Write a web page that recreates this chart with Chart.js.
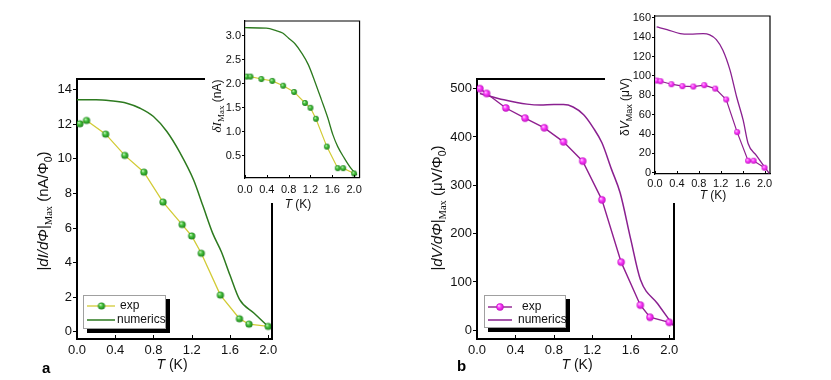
<!DOCTYPE html>
<html>
<head>
<meta charset="utf-8">
<script src="https://cdn.jsdelivr.net/npm/chart.js@4.4.0/dist/chart.umd.min.js"></script>
<style>
  body { margin: 0; background: #fff; }
  #wrap { position: relative; width: 831px; height: 380px; overflow: hidden; }
  canvas { position: absolute; }
</style>
</head>
<body>
<div id="wrap">
  <canvas id="mainA" width="415" height="380" style="left:0;top:0"></canvas>
  <canvas id="mainB" width="416" height="380" style="left:415px;top:0"></canvas>
  <canvas id="insetA" width="162" height="212" style="left:205px;top:0"></canvas>
  <canvas id="insetB" width="175" height="212" style="left:605px;top:0"></canvas>
</div>
<script>
// temperatures of the measured points (K)
var tempA = [0.03, 0.1, 0.3, 0.5, 0.7, 0.9, 1.1, 1.2, 1.3, 1.5, 1.7, 1.8, 2.0];
var tempB = [0.03, 0.1, 0.3, 0.5, 0.7, 0.9, 1.1, 1.3, 1.5, 1.7, 1.8, 2.0];

// panel a: |dI/dPhi|max (nA/Phi0)
var expA = [12.03, 12.22, 11.43, 10.2, 9.23, 7.5, 6.2, 5.54, 4.54, 2.12, 0.75, 0.44, 0.31];
var numTA = [0.0, 0.2, 0.35, 0.52, 0.66, 0.8, 0.94, 1.08, 1.22, 1.32, 1.42, 1.51, 1.6, 1.7, 1.85, 2.0];
var numA = [13.42, 13.42, 13.36, 13.22, 12.93, 12.45, 11.58, 10.33, 8.78, 7.24, 5.69, 4.63, 3.28, 1.87, 1.08, 0.3];

// inset a: delta I max (nA)
var expInsetA = [2.15, 2.15, 2.10, 2.06, 1.96, 1.83, 1.60, 1.50, 1.27, 0.69, 0.24, 0.24, 0.13];
var numTInsetA = [0.0, 0.39, 0.57, 0.69, 0.8, 0.92, 1.04, 1.16, 1.28, 1.4, 1.52, 1.61, 1.7, 1.82, 1.94, 2.05];
var numInsetA = [3.17, 3.16, 3.11, 3.06, 2.95, 2.83, 2.64, 2.40, 2.05, 1.67, 1.28, 0.94, 0.69, 0.45, 0.24, 0.10];

// panel b: |dV/dPhi|max (uV/Phi0)
var expB = [500, 490, 460, 439, 419, 390, 350, 270, 141, 52, 27, 16.5];
var numTB = [0.03, 0.28, 0.52, 0.66, 0.8, 0.9, 1.0, 1.11, 1.21, 1.3, 1.4, 1.49, 1.6, 1.7, 1.88, 2.05];
var numB = [490, 477, 468, 466, 467, 467, 462, 446, 419, 388, 333, 284, 188, 105, 55, 8];

// inset b: delta V max (uV)
var expInsetB = [95.3, 94.6, 91.5, 89.5, 89.1, 90.5, 87, 75.7, 42, 12.4, 12.4, 5.2];
var numTInsetB = [0.03, 0.22, 0.46, 0.64, 0.88, 1.0, 1.12, 1.24, 1.37, 1.49, 1.61, 1.7, 1.85, 2.09];
var numInsetB = [150.7, 148, 143.8, 143.2, 143.8, 142.5, 137.6, 126.6, 106, 78.5, 54.4, 30.3, 18, -1];

// tick labels
var tTicks = [0, 0.4, 0.8, 1.2, 1.6, 2.0];
var yTicksA = [0, 2, 4, 6, 8, 10, 12, 14];
var yTicksInsetA = [0.5, 1.0, 1.5, 2.0, 2.5, 3.0];
var yTicksB = [0, 100, 200, 300, 400, 500];
var yTicksInsetB = [0, 20, 40, 60, 80, 100, 120, 140, 160];

var SANS = '"Liberation Sans", Arial, Helvetica, sans-serif';
var SERIF = '"Liberation Serif", "Times New Roman", serif';

function pts(xs, ys) {
  return xs.map(function (x, i) { return { x: x, y: ys[i] }; });
}

function ball(r, light, mid, dark) {
  var c = document.createElement('canvas');
  var s = Math.ceil(r * 2 + 2);
  c.width = s; c.height = s;
  var g = c.getContext('2d');
  var grad = g.createRadialGradient(s / 2 - r * 0.35, s / 2 - r * 0.4, 0, s / 2, s / 2, r);
  grad.addColorStop(0, light);
  grad.addColorStop(0.45, mid);
  grad.addColorStop(1, dark);
  g.fillStyle = grad;
  g.beginPath();
  g.arc(s / 2, s / 2, r, 0, Math.PI * 2);
  g.fill();
  return c;
}

// text made of pieces (italic, subscripts), centred on cx,cy
function rich(ctx, segs, size, cx, cy, rotate) {
  ctx.save();
  ctx.translate(cx, cy);
  if (rotate) ctx.rotate(-Math.PI / 2);
  var total = 0;
  segs.forEach(function (s) { ctx.font = s.f; s.w = ctx.measureText(s.t).width; total += s.w; });
  var x = -total / 2;
  ctx.textAlign = 'left';
  ctx.textBaseline = 'alphabetic';
  ctx.fillStyle = '#111';
  segs.forEach(function (s) {
    ctx.font = s.f;
    ctx.fillText(s.t, x, size * 0.36 + (s.dy || 0));
    x += s.w;
  });
  ctx.restore();
}

function mainTitle(letter, unit) {
  var f = '15px ' + SANS;
  return [
    { t: '|', f: f },
    { t: 'd' + letter + '/d\u03A6', f: 'italic 15px ' + SANS },
    { t: '|', f: f },
    { t: 'Max', f: '10.5px ' + SERIF, dy: 4 },
    { t: ' (' + unit + '/\u03A6', f: f },
    { t: '0', f: '10.5px ' + SANS, dy: 4 },
    { t: ')', f: f }
  ];
}

function tTitle(size) {
  return [
    { t: 'T', f: 'italic ' + size + 'px ' + SANS },
    { t: ' (K)', f: size + 'px ' + SANS }
  ];
}

function drawLegend(ctx, chart, L) {
  var ds = chart.data.datasets;
  ctx.save();
  ctx.fillStyle = '#000';
  ctx.fillRect(L.x + 4, L.y + 4, L.w, L.h);
  ctx.fillStyle = '#fff';
  ctx.fillRect(L.x, L.y, L.w, L.h);
  ctx.strokeStyle = '#a0a0a0';
  ctx.lineWidth = 1;
  ctx.strokeRect(L.x + 0.5, L.y + 0.5, L.w - 1, L.h - 1);

  ctx.strokeStyle = ds[0].borderColor;
  ctx.lineWidth = ds[0].borderWidth;
  ctx.beginPath(); ctx.moveTo(L.lx0, L.y1); ctx.lineTo(L.lx1, L.y1); ctx.stroke();
  var b = ds[0].pointStyle;
  ctx.drawImage(b, L.mx - b.width / 2, L.y1 - b.height / 2);

  ctx.strokeStyle = ds[1].borderColor;
  ctx.lineWidth = ds[1].borderWidth;
  ctx.beginPath(); ctx.moveTo(L.lx0, L.y2); ctx.lineTo(L.lx1, L.y2); ctx.stroke();

  ctx.fillStyle = '#111';
  ctx.font = '12px ' + SANS;
  ctx.textBaseline = 'middle';
  ctx.textAlign = 'left';
  ctx.fillText(ds[0].label, L.tx1, L.y1);
  ctx.fillText(ds[1].label, L.tx2, L.y2);
  ctx.restore();
}

function deco(d) {
  return {
    id: 'deco',
    beforeDraw: function (chart) {
      if (!d.cover) return;
      var ctx = chart.ctx;
      ctx.save();
      ctx.fillStyle = '#fff';
      d.cover.forEach(function (r) { ctx.fillRect(r[0], r[1], r[2], r[3]); });
      ctx.restore();
    },
    afterDraw: function (chart) {
      var ctx = chart.ctx, a = chart.chartArea, xs = chart.scales.x;
      ctx.save();
      ctx.strokeStyle = '#000';
      ctx.lineWidth = d.frame;
      ctx.beginPath();
      ctx.moveTo(a.left, a.top);
      ctx.lineTo(a.right, a.top);
      ctx.lineTo(a.right, a.bottom);
      ctx.stroke();
      ctx.lineWidth = 1;
      tTicks.forEach(function (v) {
        var px = Math.round(xs.getPixelForValue(v)) + 0.5;
        ctx.beginPath();
        ctx.moveTo(px, a.bottom);
        ctx.lineTo(px, a.bottom - d.tickIn);
        ctx.stroke();
      });
      ctx.restore();
      rich(ctx, d.yTitle, d.yTitleSize, d.yTitleX, d.yTitleY, true);
      rich(ctx, tTitle(d.xTitleSize), d.xTitleSize, d.xTitleX, d.xTitleY, false);
      if (d.legend) drawLegend(ctx, chart, d.legend);
      if (d.panel) {
        ctx.save();
        ctx.fillStyle = '#000';
        ctx.font = 'bold 15px ' + SANS;
        ctx.fillText(d.panel.t, d.panel.x, d.panel.y);
        ctx.restore();
      }
    }
  };
}

function makeChart(id, c) {
  return new Chart(document.getElementById(id), {
    type: 'line',
    data: {
      datasets: [
        {
          label: 'exp',
          data: c.exp,
          borderColor: c.expColor,
          borderWidth: c.expWidth,
          pointStyle: c.ball,
          pointRadius: 3,
          tension: 0
        },
        {
          label: 'numerics',
          data: c.num,
          borderColor: c.numColor,
          borderWidth: c.numWidth,
          pointRadius: 0,
          cubicInterpolationMode: 'monotone'
        }
      ]
    },
    options: {
      responsive: false,
      animation: false,
      devicePixelRatio: 1,
      layout: { padding: { left: 0, top: c.area.top, right: c.area.right, bottom: 0 } },
      plugins: { legend: { display: false }, tooltip: { enabled: false } },
      scales: {
        x: {
          type: 'linear',
          min: c.xMin, max: c.xMax,
          afterBuildTicks: function (s) { s.ticks = tTicks.map(function (v) { return { value: v }; }); },
          afterFit: function (s) { s.height = c.area.xh; },
          grid: { drawOnChartArea: false, drawTicks: false },
          border: { color: '#000', width: c.frame },
          ticks: {
            autoSkip: false, maxRotation: 0, padding: c.xPad, color: '#111',
            font: { family: SANS, size: c.tickSize },
            callback: function (v) { return v.toFixed(1); }
          }
        },
        y: {
          min: c.yMin, max: c.yMax,
          afterBuildTicks: function (s) { s.ticks = c.yTicks.map(function (v) { return { value: v }; }); },
          afterFit: function (s) { s.width = c.area.left; },
          grid: { drawOnChartArea: false, drawTicks: true, tickLength: c.tickOut, color: '#000' },
          border: { color: '#000', width: c.frame },
          ticks: {
            autoSkip: false, padding: 1, color: '#111',
            font: { family: SANS, size: c.tickSize },
            callback: function (v) { return c.yDec ? v.toFixed(c.yDec) : String(v); }
          }
        }
      }
    },
    plugins: [deco(c.deco)]
  });
}

var greenBig = ball(3.6, '#eaffe4', '#46c43c', '#1b7d1b');
var greenSmall = ball(2.9, '#eaffe4', '#46c43c', '#1b7d1b');
var pinkBig = ball(3.7, '#fff0ff', '#ff3dff', '#c010c0');
var pinkSmall = ball(3.0, '#fff0ff', '#ff3dff', '#c010c0');

makeChart('mainA', {
  exp: pts(tempA, expA), num: pts(numTA, numA),
  expColor: '#d2cb36', expWidth: 1.3, numColor: '#2d7a1f', numWidth: 1.5, ball: greenBig,
  xMin: 0, xMax: 2.04, yMin: -0.42, yMax: 14.62, yTicks: yTicksA, yDec: 0,
  area: { left: 77, top: 79, right: 143, xh: 41 },
  frame: 2, tickSize: 13, tickOut: 4, xPad: 4,
  deco: {
    frame: 2, tickIn: 4,
    yTitle: mainTitle('I', 'nA'), yTitleSize: 15, yTitleX: 43, yTitleY: 211,
    xTitleSize: 14, xTitleX: 172, xTitleY: 364,
    legend: { x: 83, y: 295, w: 83, h: 34, lx0: 87, lx1: 115, mx: 101.5, y1: 306, y2: 320, tx1: 120, tx2: 117 },
    panel: { t: 'a', x: 42, y: 373 }
  }
});

makeChart('mainB', {
  exp: pts(tempB, expB), num: pts(numTB, numB),
  expColor: '#8f1f8f', expWidth: 1.4, numColor: '#8a2090', numWidth: 1.5, ball: pinkBig,
  xMin: 0, xMax: 2.05, yMin: -18, yMax: 520, yTicks: yTicksB, yDec: 0,
  area: { left: 62, top: 79, right: 157, xh: 41 },
  frame: 2, tickSize: 13, tickOut: 4, xPad: 4,
  deco: {
    frame: 2, tickIn: 4,
    yTitle: mainTitle('V', '\u03BCV'), yTitleSize: 15, yTitleX: 22, yTitleY: 208,
    xTitleSize: 14, xTitleX: 162, xTitleY: 364,
    legend: { x: 69, y: 295, w: 82, h: 33, lx0: 73, lx1: 97, mx: 85, y1: 307, y2: 320, tx1: 107, tx2: 103 },
    panel: { t: 'b', x: 42, y: 371 }
  }
});

makeChart('insetA', {
  exp: pts(tempA, expInsetA), num: pts(numTInsetA, numInsetA),
  expColor: '#d2cb36', expWidth: 1.2, numColor: '#2d7a1f', numWidth: 1.3, ball: greenSmall,
  xMin: 0, xMax: 2.1, yMin: 0.035, yMax: 3.31, yTicks: yTicksInsetA, yDec: 1,
  area: { left: 40, top: 21, right: 5, xh: 34 },
  frame: 1.2, tickSize: 11, tickOut: 3, xPad: 5,
  deco: {
    cover: [[0, 0, 162, 203]], frame: 1.2, tickIn: 3,
    yTitle: [
      { t: '\u03B4I', f: 'italic 13px ' + SERIF },
      { t: 'Max', f: '9px ' + SERIF, dy: 3 },
      { t: ' (nA)', f: '12px ' + SANS }
    ],
    yTitleSize: 12, yTitleX: 12, yTitleY: 106,
    xTitleSize: 12, xTitleX: 93, xTitleY: 204
  }
});

makeChart('insetB', {
  exp: pts(tempB, expInsetB), num: pts(numTInsetB, numInsetB),
  expColor: '#8f1f8f', expWidth: 1.2, numColor: '#8a2090', numWidth: 1.3, ball: pinkSmall,
  xMin: 0, xMax: 2.1, yMin: -1.3, yMax: 162, yTicks: yTicksInsetB, yDec: 0,
  area: { left: 50, top: 16, right: 10, xh: 38 },
  frame: 1.2, tickSize: 11, tickOut: 3, xPad: 3,
  deco: {
    cover: [[0, 74, 175, 10], [46, 0, 129, 203]], frame: 1.2, tickIn: 3,
    yTitle: [
      { t: '\u03B4', f: '12px ' + SANS },
      { t: 'V', f: 'italic 12px ' + SANS },
      { t: 'Max', f: '9px ' + SANS, dy: 3 },
      { t: ' (\u03BCV)', f: '12px ' + SANS }
    ],
    yTitleSize: 12, yTitleX: 20, yTitleY: 107,
    xTitleSize: 12, xTitleX: 108, xTitleY: 195
  }
});
</script>
</body>
</html>
